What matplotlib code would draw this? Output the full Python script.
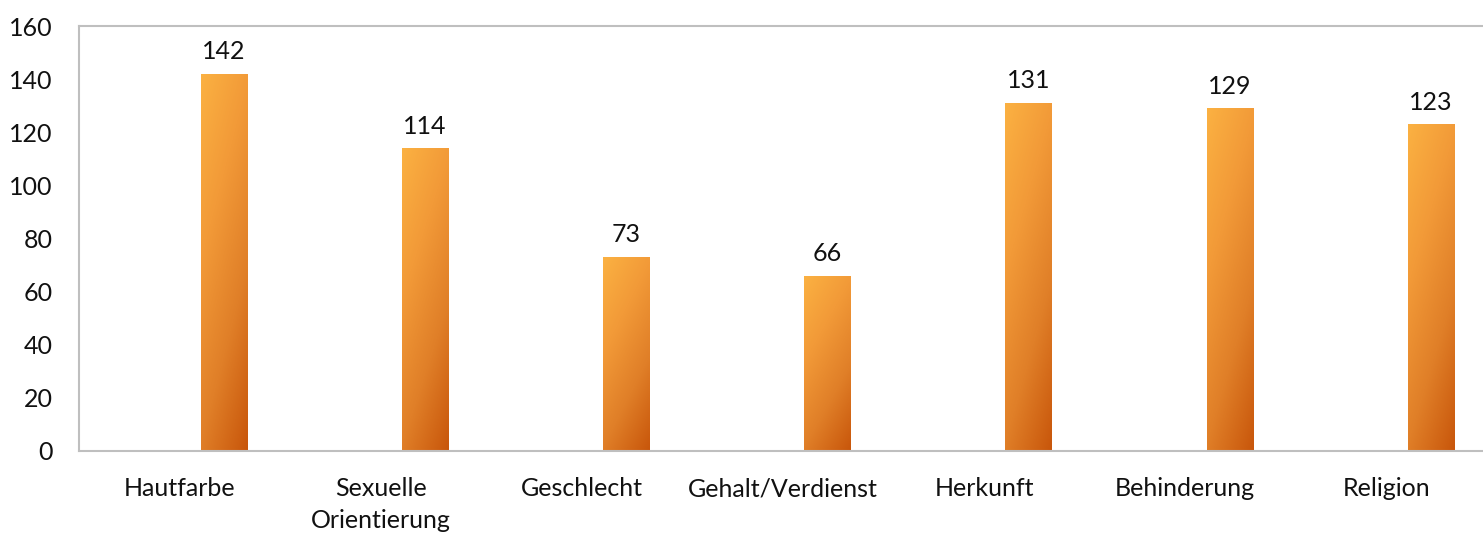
import numpy as np
import matplotlib.pyplot as plt
from matplotlib.colors import LinearSegmentedColormap

categories = ["Hautfarbe", "Sexuelle\nOrientierung", "Geschlecht", "Gehalt/Verdienst",
              "Herkunft", "Behinderung", "Religion"]
values = [142, 114, 73, 66, 131, 129, 123]

plt.rcParams['font.family'] = ['Lato', 'DejaVu Sans']

fig = plt.figure(figsize=(14.83, 5.41), dpi=100)
ax = fig.add_axes([79 / 1483, 90 / 541, 1408 / 1483, 425 / 541])

cmap = LinearSegmentedColormap.from_list("orange", ["#FBB142", "#F29A38", "#E07F28", "#C8560B"])

x = np.arange(len(categories))
offset = 0.22
width = 0.229
bars = ax.bar(x + offset, values, width=width, color="none", edgecolor="none")

# gradient fill: light at top-left, dark at bottom-right
gy, gx = np.mgrid[0:1:200j, 0:1:50j]
grad = 0.75 * (1 - gy) + 0.35 * gx
grad = (grad - grad.min()) / (grad.max() - grad.min())
for b in bars:
    x0, y0 = b.get_x(), b.get_y()
    w, h = b.get_width(), b.get_height()
    im = ax.imshow(grad, cmap=cmap, aspect="auto", origin="lower",
                   extent=[x0, x0 + w, y0, y0 + h], zorder=2)
    im.set_clip_path(b)

for xi, v in zip(x, values):
    ax.text(xi + offset, v + 4, str(v), ha="center", va="bottom", fontsize=18, color="#111111")

ax.set_xlim(-0.5, len(categories) - 0.5)
ax.set_ylim(0, 160)
ax.set_yticks(range(0, 161, 20))
ax.set_xticks(x)
ax.set_xticklabels(categories, fontsize=18, linespacing=1.45, color="#111111")
ax.tick_params(axis="y", length=0, pad=19, labelsize=18, labelcolor="#111111")
ax.tick_params(axis="x", length=0, pad=19)
for s in ["left", "bottom", "top"]:
    ax.spines[s].set_color("#BFBFBF")
    ax.spines[s].set_linewidth(1.5)
ax.spines["right"].set_visible(False)

fig.savefig("out.png", dpi=100)
